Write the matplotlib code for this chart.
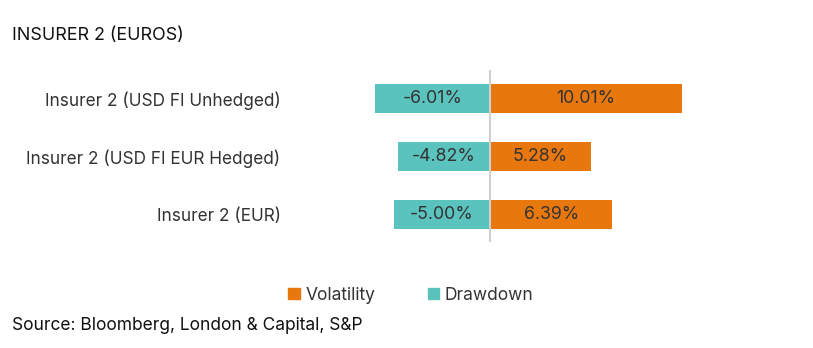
import matplotlib
matplotlib.use("Agg")
import matplotlib.pyplot as plt
from matplotlib.patches import Patch

categories = ["Insurer 2 (USD FI Unhedged)", "Insurer 2 (USD FI EUR Hedged)", "Insurer 2 (EUR)"]
volatility = [10.01, 5.28, 6.39]
drawdown = [-6.01, -4.82, -5.00]

ORANGE = "#E8770E"
TEAL = "#5BC3BE"
TXT = "#333333"

plt.rcParams['font.family'] = ['Inter', 'DejaVu Sans']

W, H = 813, 348
fig = plt.figure(figsize=(W/100, H/100), dpi=100)
ax = fig.add_axes([300/W, 1-242/H, 500/W, 172/H])

y = list(range(len(categories)))
ax.barh(y, volatility, height=0.5, color=ORANGE, left=0)
ax.barh(y, drawdown, height=0.5, color=TEAL)
ax.set_xlim(-9.92, 16.19)
ax.set_ylim(2.474, -0.491)
ax.axvline(0, color="#cfcfcf", lw=1.5)

for i, (v, d) in enumerate(zip(volatility, drawdown)):
    ax.text(v/2, i, f"{v:.2f}%", ha="center", va="center", fontsize=12.8, color=TXT)
    ax.text(d/2, i, f"{d:.2f}%", ha="center", va="center", fontsize=12.8, color=TXT)

ax.set_yticks(y)
ax.set_yticklabels(categories, fontsize=12.4, color=TXT)
ax.tick_params(axis="y", length=0, pad=14)
ax.set_xticks([])
for s in ax.spines.values():
    s.set_visible(False)

fig.text(12/W, 1-35/H, "INSURER 2 (EUROS)", fontsize=12.9, color="#111111", va="center", ha="left")
fig.text(12/W, 1-325/H, "Source: Bloomberg, London & Capital, S&P", fontsize=12.5, color="#111111", va="center", ha="left")

handles = [Patch(color=ORANGE, label="Volatility"), Patch(color=TEAL, label="Drawdown")]
leg = fig.legend(handles=handles, loc="center", bbox_to_anchor=(411/W, 1-295/H), ncol=2, frameon=False,
                 fontsize=12.5, handlelength=0.65, handleheight=0.65, handletextpad=0.35, columnspacing=3.0)
for t in leg.get_texts():
    t.set_color(TXT)

fig.savefig("out.png", dpi=100)
